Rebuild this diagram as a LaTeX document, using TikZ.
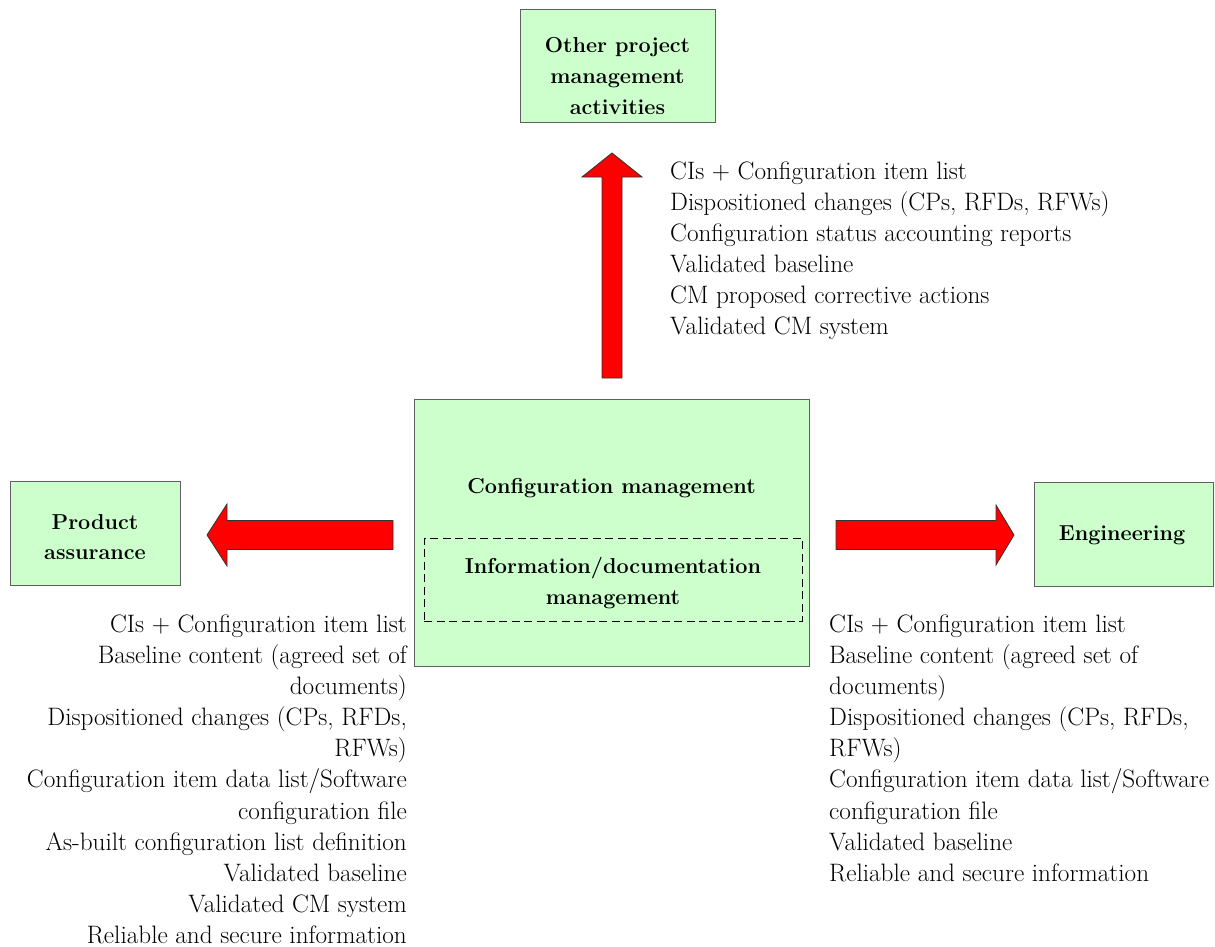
\documentclass[tikz,border=0pt]{standalone}
\usetikzlibrary{calc}
\definecolor{boxgreen}{HTML}{CCFFCC}
\definecolor{boxline}{HTML}{606060}
\definecolor{arrowred}{HTML}{FF0000}
\begin{document}
\begin{tikzpicture}[x=1pt,y=-1pt,
  txt/.style={font=\fontsize{25.2}{31.1}\selectfont, inner sep=0pt},
  btxt/.style={font=\fontsize{21.6}{30.6}\selectfont\bfseries, inner sep=0pt, align=center},
  box/.style={draw=boxline, fill=boxgreen, line width=1pt, inner sep=0pt},
  dashbox/.style={draw=black, dash pattern=on 8pt off 4.5pt, line width=1pt, inner sep=0pt},
  blockarrow/.style={draw=black!80, fill=arrowred, line width=0.8pt, line join=miter}]
\useasboundingbox (0,0) rectangle (1215,947);

% boxes
\node[box, minimum width=195pt, minimum height=113pt] (opm) at (617.5,66.5) {};
\node[btxt] (opmt) at (617.5,76) {Other project\\management\\activities};

\node[box, minimum width=395pt, minimum height=267pt] (cm) at (611.5,532.5) {};
\node[btxt] (cmt) at (611.5,488) {Configuration management};
\node[dashbox, minimum width=378pt, minimum height=83pt] (idm) at (613,579.5) {};
\node[btxt] (idmt) at (613,583) {Information/documentation\\management};

\node[box, minimum width=170pt, minimum height=104pt] (pa) at (95,533) {};
\node[btxt] (pat) at (95,537) {Product\\assurance};

\node[box, minimum width=179pt, minimum height=104pt] (eng) at (1123.5,534) {};
\node[btxt] (engt) at (1122,535) {Engineering};

% block arrows
\coordinate (upbase) at (612,378);
\coordinate (uptip) at (612,153);
\draw[blockarrow] ($(upbase)+(-10,0)$) -- (602,177) -- (582,177) -- (uptip) -- (642,177) -- (622,177) -- ($(upbase)+(10,0)$) -- cycle;

\coordinate (lbase) at (393,535);
\coordinate (ltip) at (207,535);
\draw[blockarrow] ($(lbase)+(0,-14.5)$) -- (227,520.5) -- (227,504) -- (ltip) -- (227,566) -- (227,549.5) -- ($(lbase)+(0,14.5)$) -- cycle;

\coordinate (rbase) at (836,535);
\coordinate (rtip) at (1014,535);
\draw[blockarrow] ($(rbase)+(0,-14.5)$) -- (996,520.5) -- (996,505) -- (rtip) -- (996,565) -- (996,549.5) -- ($(rbase)+(0,14.5)$) -- cycle;

% lists
\node[txt, align=left, anchor=north west] (toplist) at (670,161.5) {CIs + Configuration item list\\
Dispositioned changes (CPs, RFDs, RFWs)\\
Configuration status accounting reports\\
Validated baseline\\
CM proposed corrective actions\\
Validated CM system};

\node[txt, align=right, anchor=north east] (leftlist) at (407,614.5) {CIs + Configuration item list\\
Baseline content (agreed set of\\
documents)\\
Dispositioned changes (CPs, RFDs,\\
RFWs)\\
Configuration item data list/Software\\
configuration file\\
As-built configuration list definition\\
Validated baseline\\
Validated CM system\\
Reliable and secure information};

\node[txt, align=left, anchor=north west] (rightlist) at (829,614.5) {CIs + Configuration item list\\
Baseline content (agreed set of\\
documents)\\
Dispositioned changes (CPs, RFDs,\\
RFWs)\\
Configuration item data list/Software\\
configuration file\\
Validated baseline\\
Reliable and secure information};
\end{tikzpicture}
\end{document}
